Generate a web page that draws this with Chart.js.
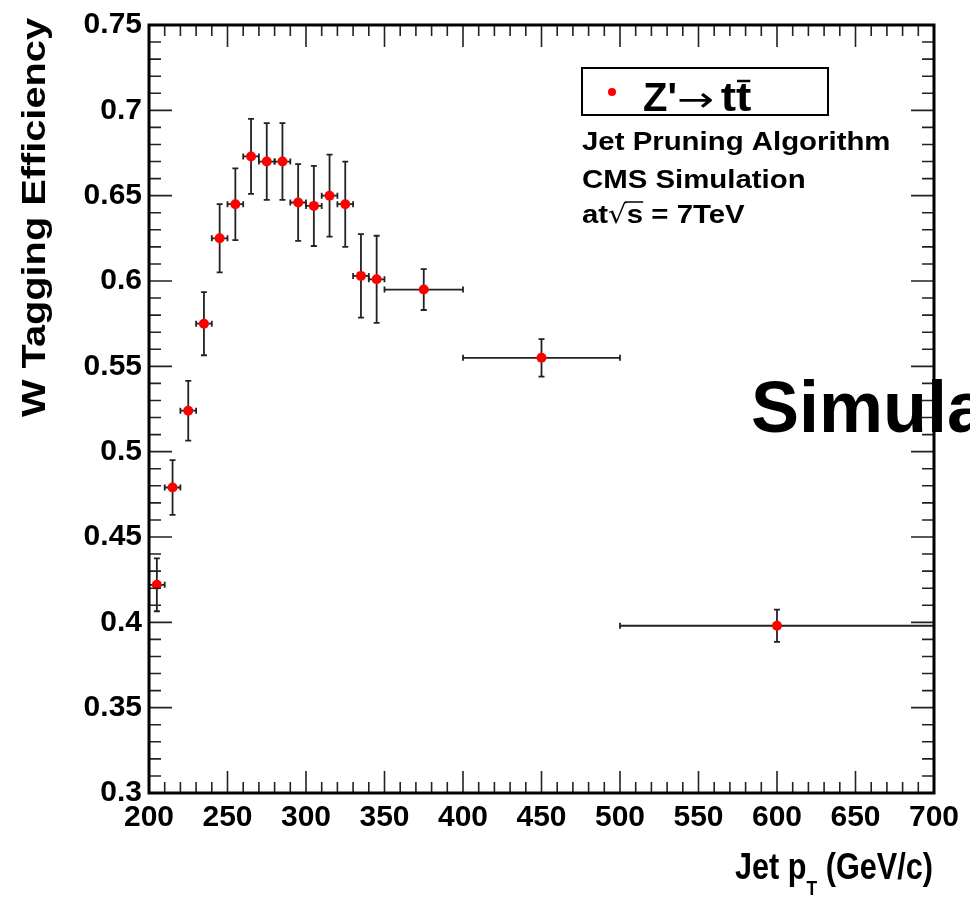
<!DOCTYPE html>
<html>
<head>
<meta charset="utf-8">
<script src="https://cdn.jsdelivr.net/npm/chart.js@4"></script>
<style>
html, body { margin: 0; padding: 0; background: #fff; }
</style>
</head>
<body>
<canvas id="eff_chart" width="970" height="898"></canvas>
<script>
// Jet pT bins (GeV/c): centres and half widths
const binCenters = [205, 215, 225, 235, 245, 255, 265, 275, 285, 295, 305, 315, 325, 335, 345, 375, 450, 600];
const binHalfWidths = [5, 5, 5, 5, 5, 5, 5, 5, 5, 5, 5, 5, 5, 5, 5, 25, 50, 100];
// W tagging efficiency and its uncertainty
const efficiency = [0.422, 0.479, 0.524, 0.575, 0.625, 0.645, 0.673, 0.670, 0.670, 0.646, 0.644, 0.650, 0.645, 0.603, 0.601, 0.595, 0.555, 0.398];
const effError = [0.0155, 0.016, 0.0175, 0.0185, 0.020, 0.021, 0.022, 0.0225, 0.0225, 0.0225, 0.0235, 0.024, 0.025, 0.0245, 0.0255, 0.012, 0.011, 0.0095];

const xTicks = [200, 250, 300, 350, 400, 450, 500, 550, 600, 650, 700];
const yTicks = [0.3, 0.35, 0.4, 0.45, 0.5, 0.55, 0.6, 0.65, 0.7, 0.75];

const FONT = '"Liberation Sans", Arial, Helvetica, sans-serif';

// draw a list of text runs one after another, stretched horizontally by sx
function drawRuns(ctx, runs, x, y, sx) {
    let cx = x;
    const pos = [];
    runs.forEach(r => {
        const s = sx * (r.sx || 1);
        ctx.font = r.font;
        const w = ctx.measureText(r.t).width * s;
        ctx.save();
        ctx.translate(cx, y + (r.dy || 0));
        ctx.scale(s, 1);
        ctx.fillText(r.t, 0, 0);
        ctx.restore();
        pos.push([cx, cx + w]);
        cx += w;
    });
    return pos;
}
function runsWidth(ctx, runs) {
    let w = 0;
    runs.forEach(r => { ctx.font = r.font; w += ctx.measureText(r.t).width * (r.sx || 1); });
    return w;
}

const errorBars = {
    id: 'errorBars',
    beforeDatasetsDraw(chart) {
        const ctx = chart.ctx, xs = chart.scales.x, ys = chart.scales.y;
        ctx.save();
        ctx.strokeStyle = '#222';
        ctx.lineWidth = 1.8;
        binCenters.forEach((c, i) => {
            const px = xs.getPixelForValue(c);
            const py = ys.getPixelForValue(efficiency[i]);
            const y1 = ys.getPixelForValue(efficiency[i] + effError[i]);
            const y2 = ys.getPixelForValue(efficiency[i] - effError[i]);
            const x1 = xs.getPixelForValue(c - binHalfWidths[i]);
            const x2 = xs.getPixelForValue(c + binHalfWidths[i]);
            ctx.beginPath();
            ctx.moveTo(px, y1); ctx.lineTo(px, y2);
            ctx.moveTo(px - 3, y1); ctx.lineTo(px + 3, y1);
            ctx.moveTo(px - 3, y2); ctx.lineTo(px + 3, y2);
            ctx.moveTo(x1, py); ctx.lineTo(x2, py);
            ctx.moveTo(x1, py - 3); ctx.lineTo(x1, py + 3);
            ctx.moveTo(x2, py - 3); ctx.lineTo(x2, py + 3);
            ctx.stroke();
        });
        ctx.restore();
    }
};

const rootFrame = {
    id: 'rootFrame',
    afterDraw(chart) {
        const ctx = chart.ctx, xs = chart.scales.x, ys = chart.scales.y;
        const a = chart.chartArea;
        ctx.save();
        // inward ticks on all four sides
        ctx.strokeStyle = '#222';
        ctx.lineWidth = 1.6;
        ctx.beginPath();
        for (let v = 200; v <= 700; v += 10) {
            const px = xs.getPixelForValue(v);
            const len = v % 50 === 0 ? 22 : 11;
            ctx.moveTo(px, a.bottom); ctx.lineTo(px, a.bottom - len);
            ctx.moveTo(px, a.top); ctx.lineTo(px, a.top + len);
        }
        for (let k = 30; k <= 75; k++) {
            const py = ys.getPixelForValue(k / 100);
            const len = k % 5 === 0 ? 23 : 12;
            ctx.moveTo(a.left, py); ctx.lineTo(a.left + len, py);
            ctx.moveTo(a.right, py); ctx.lineTo(a.right - len, py);
        }
        ctx.stroke();
        ctx.lineWidth = 3;
        ctx.strokeStyle = '#000';
        ctx.strokeRect(a.left, a.top, a.right - a.left, a.bottom - a.top);

        ctx.fillStyle = '#000';
        ctx.textBaseline = 'alphabetic';
        ctx.textAlign = 'left';

        // legend box
        ctx.lineWidth = 2;
        ctx.strokeRect(582, 68, 246, 47);
        ctx.fillStyle = '#ff0000';
        ctx.beginPath(); ctx.arc(612, 92, 4, 0, Math.PI * 2); ctx.fill();
        ctx.fillStyle = '#000';
        const leg = drawRuns(ctx, [
            {t: "Z'", font: 'bold 40px ' + FONT},
            {t: '\u2192', font: '34px "DejaVu Sans", ' + FONT, sx: 1.3},
            {t: ' ', font: 'bold 40px ' + FONT, sx: 0.6},
            {t: 'tt', font: 'bold 40px ' + FONT, sx: 1.15}
        ], 643, 111, 1.0);
        const tW = (leg[3][1] - leg[3][0]) / 2;
        ctx.lineWidth = 2.5;
        ctx.beginPath();
        ctx.moveTo(leg[3][1] - tW + 1, 81); ctx.lineTo(leg[3][1] - 1, 81);
        ctx.stroke();

        // info text
        const f26 = 'bold 26px ' + FONT;
        drawRuns(ctx, [{t: 'Jet Pruning Algorithm', font: f26}], 582, 150, 1.13);
        drawRuns(ctx, [{t: 'CMS Simulation', font: f26}], 582, 188, 1.13);
        const sq = drawRuns(ctx, [
            {t: 'at', font: f26},
            {t: '\u221A', font: '26px "DejaVu Sans", ' + FONT},
            {t: 's', font: f26},
            {t: ' = 7TeV', font: f26}
        ], 582, 223, 1.13);
        ctx.lineWidth = 1.5;
        ctx.beginPath();
        ctx.moveTo(sq[1][1] - 2, 202); ctx.lineTo(sq[2][1], 202);
        ctx.stroke();

        // large stray label, clipped by the canvas edge
        drawRuns(ctx, [{t: 'Simulation', font: 'bold 72px ' + FONT}], 751, 432, 1.0);

        // x axis title, right aligned
        const xRuns = [
            {t: 'Jet p', font: 'bold 37px ' + FONT},
            {t: 'T', font: 'bold 21px ' + FONT, dy: 16},
            {t: ' (GeV/c)', font: 'bold 37px ' + FONT}
        ];
        const xsx = 198 / runsWidth(ctx, xRuns);
        drawRuns(ctx, xRuns, 735, 879, xsx);

        // y axis title, rotated and aligned to the top
        const yRuns = [{t: 'W Tagging Efficiency', font: 'bold 34px ' + FONT}];
        const ysx = 399 / runsWidth(ctx, yRuns);
        ctx.save();
        ctx.translate(45, 417);
        ctx.rotate(-Math.PI / 2);
        drawRuns(ctx, yRuns, 0, 0, ysx);
        ctx.restore();

        ctx.restore();
    }
};

const ctx = document.getElementById('eff_chart').getContext('2d');

new Chart(ctx, {
    type: 'scatter',
    data: {
        datasets: [{
            label: "Z'\u2192 tt",
            data: binCenters.map((x, i) => ({x: x, y: efficiency[i]})),
            pointRadius: 5,
            pointBackgroundColor: '#ff0000',
            pointBorderWidth: 0,
            showLine: false
        }]
    },
    options: {
        responsive: false,
        animation: false,
        layout: {padding: {left: 0, right: 36, top: 21, bottom: 0}},
        plugins: {
            legend: {display: false},
            tooltip: {enabled: false}
        },
        scales: {
            x: {
                type: 'linear',
                min: 200,
                max: 700,
                afterBuildTicks: s => { s.ticks = xTicks.map(v => ({value: v})); },
                afterFit: s => { s.height = 105; },
                grid: {display: false, drawTicks: false},
                border: {display: false},
                ticks: {
                    color: '#000',
                    font: {family: FONT, size: 30, weight: 'bold'},
                    padding: 7,
                    maxRotation: 0,
                    autoSkip: false,
                    callback: v => String(v)
                }
            },
            y: {
                type: 'linear',
                min: 0.3,
                max: 0.75,
                afterBuildTicks: s => { s.ticks = yTicks.map(v => ({value: v})); },
                afterFit: s => { s.width = 149; },
                grid: {display: false, drawTicks: false},
                border: {display: false},
                ticks: {
                    color: '#000',
                    font: {family: FONT, size: 30, weight: 'bold'},
                    padding: 7,
                    autoSkip: false,
                    callback: v => String(+v.toFixed(2))
                }
            }
        }
    },
    plugins: [errorBars, rootFrame]
});
</script>
</body>
</html>
